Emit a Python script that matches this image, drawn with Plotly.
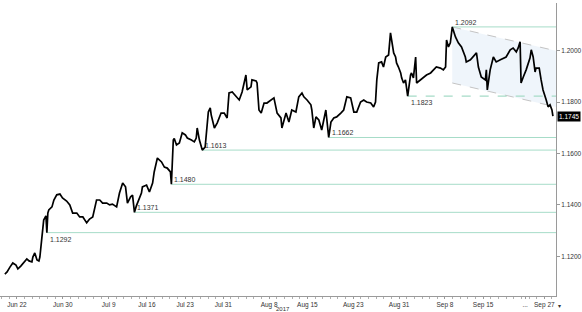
import plotly.graph_objects as go

# ---------------- data ----------------
TIMES = [
    "2017-06-20 10:00", "2017-06-20 17:00", "2017-06-21 02:00", "2017-06-21 11:00", "2017-06-21 21:00",
    "2017-06-22 03:00", "2017-06-22 12:00", "2017-06-22 19:00", "2017-06-23 07:00", "2017-06-23 14:00",
    "2017-06-23 23:00", "2017-06-26 02:00", "2017-06-26 08:00", "2017-06-26 15:00", "2017-06-26 21:00",
    "2017-06-27 00:00", "2017-06-27 03:00", "2017-06-27 06:00", "2017-06-27 09:00", "2017-06-27 12:00",
    "2017-06-27 19:00", "2017-06-27 22:00", "2017-06-28 01:00", "2017-06-28 04:00", "2017-06-28 14:00",
    "2017-06-28 20:00", "2017-06-29 05:00", "2017-06-29 15:00", "2017-06-29 23:00", "2017-06-30 12:00",
    "2017-06-30 22:00", "2017-07-03 07:00", "2017-07-03 20:00", "2017-07-04 05:00", "2017-07-04 15:00",
    "2017-07-05 03:00", "2017-07-05 12:00", "2017-07-05 22:00", "2017-07-06 10:00", "2017-07-06 20:00",
    "2017-07-07 05:00", "2017-07-07 18:00", "2017-07-10 03:00", "2017-07-10 12:00", "2017-07-11 01:00",
    "2017-07-11 10:00", "2017-07-11 20:00", "2017-07-12 05:00", "2017-07-12 11:00", "2017-07-12 21:00",
    "2017-07-13 03:00", "2017-07-13 06:00", "2017-07-13 09:00", "2017-07-13 15:00", "2017-07-13 22:00",
    "2017-07-14 07:00", "2017-07-14 10:00", "2017-07-14 23:00", "2017-07-17 08:00", "2017-07-17 18:00",
    "2017-07-17 23:00", "2017-07-18 09:00", "2017-07-18 22:00", "2017-07-19 07:00", "2017-07-19 16:00",
    "2017-07-20 02:00", "2017-07-20 05:00", "2017-07-20 11:00", "2017-07-20 14:00", "2017-07-20 21:00",
    "2017-07-21 06:00", "2017-07-21 15:00", "2017-07-24 01:00", "2017-07-24 07:00", "2017-07-24 20:00",
    "2017-07-25 05:00", "2017-07-25 11:00", "2017-07-25 14:00", "2017-07-25 21:00", "2017-07-26 06:00",
    "2017-07-26 15:00", "2017-07-27 01:00", "2017-07-27 07:00", "2017-07-27 10:00", "2017-07-27 20:00",
    "2017-07-28 05:00", "2017-07-28 17:00", "2017-07-31 03:00", "2017-07-31 12:00", "2017-07-31 18:00",
    "2017-08-01 04:00", "2017-08-01 16:00", "2017-08-02 02:00", "2017-08-02 11:00", "2017-08-02 23:00",
    "2017-08-03 03:00", "2017-08-03 15:00", "2017-08-03 18:00", "2017-08-04 07:00", "2017-08-04 10:00",
    "2017-08-04 16:00", "2017-08-04 23:00", "2017-08-07 08:00", "2017-08-07 17:00", "2017-08-08 06:00",
    "2017-08-08 15:00", "2017-08-09 01:00", "2017-08-09 13:00", "2017-08-09 16:00", "2017-08-10 05:00",
    "2017-08-10 14:00", "2017-08-10 23:00", "2017-08-11 12:00", "2017-08-11 21:00", "2017-08-14 07:00",
    "2017-08-14 13:00", "2017-08-14 23:00", "2017-08-15 11:00", "2017-08-15 14:00", "2017-08-15 20:00",
    "2017-08-16 03:00", "2017-08-16 12:00", "2017-08-16 21:00", "2017-08-17 10:00", "2017-08-17 19:00",
    "2017-08-18 02:00", "2017-08-18 11:00", "2017-08-18 20:00", "2017-08-21 09:00", "2017-08-21 18:00",
    "2017-08-22 04:00", "2017-08-22 16:00", "2017-08-23 02:00", "2017-08-23 11:00", "2017-08-23 23:00",
    "2017-08-24 09:00", "2017-08-24 18:00", "2017-08-25 07:00", "2017-08-25 16:00", "2017-08-25 22:00",
    "2017-08-28 02:00", "2017-08-28 08:00", "2017-08-28 17:00", "2017-08-28 23:00", "2017-08-29 06:00",
    "2017-08-29 15:00", "2017-08-29 21:00", "2017-08-30 01:00", "2017-08-30 07:00", "2017-08-30 13:00",
    "2017-08-30 16:00", "2017-08-30 22:00", "2017-08-31 05:00", "2017-08-31 08:00", "2017-08-31 14:00",
    "2017-08-31 20:00", "2017-09-01 03:00", "2017-09-01 12:00", "2017-09-01 15:00", "2017-09-01 21:00",
    "2017-09-04 04:00", "2017-09-04 07:00", "2017-09-04 19:00", "2017-09-05 05:00", "2017-09-05 14:00",
    "2017-09-06 03:00", "2017-09-06 12:00", "2017-09-06 21:00", "2017-09-07 10:00", "2017-09-07 19:00",
    "2017-09-08 02:00", "2017-09-08 05:00", "2017-09-08 11:00", "2017-09-08 17:00", "2017-09-08 23:00",
    "2017-09-11 09:00", "2017-09-11 18:00", "2017-09-12 04:00", "2017-09-12 16:00", "2017-09-12 19:00",
    "2017-09-13 08:00", "2017-09-13 17:00", "2017-09-14 03:00", "2017-09-14 09:00", "2017-09-14 18:00",
    "2017-09-15 07:00", "2017-09-15 10:00", "2017-09-15 13:00", "2017-09-15 22:00", "2017-09-18 08:00",
    "2017-09-18 17:00", "2017-09-19 06:00", "2017-09-19 15:00", "2017-09-20 00:00", "2017-09-20 13:00",
    "2017-09-20 22:00", "2017-09-21 08:00", "2017-09-21 14:00", "2017-09-21 20:00", "2017-09-21 23:00",
    "2017-09-22 06:00", "2017-09-22 15:00", "2017-09-25 03:00", "2017-09-25 07:00", "2017-09-25 13:00",
    "2017-09-25 19:00", "2017-09-25 22:00", "2017-09-26 08:00", "2017-09-26 14:00", "2017-09-26 20:00",
    "2017-09-27 06:00", "2017-09-27 12:00", "2017-09-27 18:00", "2017-09-28 00:00", "2017-09-28 03:00",
]
PRICES = [
    1.1131, 1.1139, 1.1158, 1.1174, 1.1166,
    1.1151, 1.1162, 1.1174, 1.1190, 1.1182,
    1.1178, 1.1197, 1.1213, 1.1186, 1.1182,
    1.1197, 1.1236, 1.1275, 1.1310, 1.1341,
    1.1357, 1.1292, 1.1368, 1.1380, 1.1392,
    1.1419, 1.1439, 1.1442, 1.1427, 1.1415,
    1.1400, 1.1368, 1.1368, 1.1353, 1.1353,
    1.1330, 1.1345, 1.1353, 1.1419, 1.1419,
    1.1407, 1.1407, 1.1400, 1.1403, 1.1392,
    1.1446, 1.1485, 1.1470, 1.1407, 1.1431,
    1.1438, 1.1396, 1.1371, 1.1396, 1.1419,
    1.1446, 1.1470, 1.1477, 1.1450, 1.1485,
    1.1528, 1.1582, 1.1567, 1.1547, 1.1543,
    1.1528, 1.1480, 1.1652, 1.1658, 1.1633,
    1.1641, 1.1680, 1.1672, 1.1660, 1.1652,
    1.1645, 1.1660, 1.1699, 1.1652, 1.1613,
    1.1625, 1.1761, 1.1777, 1.1750, 1.1699,
    1.1719, 1.1757, 1.1757, 1.1738, 1.1835,
    1.1839, 1.1820, 1.1808, 1.1839, 1.1905,
    1.1847, 1.1859, 1.1886, 1.1882, 1.1874,
    1.1769, 1.1757, 1.1796, 1.1796, 1.1808,
    1.1816, 1.1757, 1.1738, 1.1699, 1.1757,
    1.1722, 1.1769, 1.1761, 1.1820, 1.1835,
    1.1820, 1.1808, 1.1789, 1.1769, 1.1699,
    1.1742, 1.1730, 1.1691, 1.1769, 1.1662,
    1.1722, 1.1738, 1.1742, 1.1757, 1.1769,
    1.1820, 1.1816, 1.1761, 1.1761, 1.1800,
    1.1808, 1.1800, 1.1796, 1.1781, 1.1800,
    1.1886, 1.1952, 1.1956, 1.1936, 1.1975,
    1.1983, 1.2069, 1.2041, 1.1991, 1.1975,
    1.1952, 1.1936, 1.1913, 1.1894, 1.1874,
    1.1886, 1.1823, 1.1905, 1.1913, 1.1894,
    1.1975, 1.1874, 1.1886, 1.1897, 1.1905,
    1.1913, 1.1925, 1.1936, 1.1932, 1.1925,
    1.1936, 1.2041, 1.2014, 1.2030, 1.2092,
    1.2053, 1.2030, 1.2014, 1.1975, 1.1956,
    1.1964, 1.1975, 1.1991, 1.1936, 1.1897,
    1.1886, 1.1925, 1.1847, 1.1925, 1.1975,
    1.1956, 1.1964, 1.1971, 1.1975, 1.2003,
    1.2010, 1.1995, 1.2010, 1.2034, 1.1874,
    1.1897, 1.1925, 1.1971, 1.2003, 1.1975,
    1.1917, 1.1932, 1.1932, 1.1886, 1.1847,
    1.1808, 1.1781, 1.1789, 1.1769, 1.1745,
]

LEVEL_VALUES = [1.1292, 1.1371, 1.1480, 1.1613, 1.1662, 1.1823, 1.2092]
LEVEL_STARTS = ["2017-06-27 22:00", "2017-07-13 09:00", "2017-07-20 05:00", "2017-07-26 06:00",
                "2017-08-17 19:00", "2017-09-01 03:00", "2017-09-08 23:00"]

CHANNEL_X = ["2017-09-08 23:00", "2017-09-28 12:43"]
CHANNEL_UPPER = [1.2092, 1.1999]
CHANNEL_LOWER = [1.1874, 1.1781]

X_TICK_DATES = ["2017-06-22", "2017-06-30", "2017-07-10", "2017-07-17", "2017-07-24", "2017-07-31",
                "2017-08-08", "2017-08-15", "2017-08-23", "2017-08-31", "2017-09-08", "2017-09-15",
                "2017-09-22 12:00", "2017-09-27"]
X_TICK_LABELS = ["Jun 22", "Jun 30", "Jul 9", "Jul 16", "Jul 23", "Jul 31", "Aug 8", "Aug 15",
                 "Aug 23", "Aug 31", "Sep 8", "Sep 15", "...", "Sep 27"]
Y_TICKS = [1.12, 1.14, 1.16, 1.18, 1.20]
LAST_PRICE = 1.1745
YEAR_LABEL = "2017"
YEAR_LABEL_AT = "2017-08-09 19:00"

# ---------------- layout / style ----------------
X_RANGE = ["2017-06-19 18:49", "2017-09-28 12:43"]
Y_RANGE = [1.10456, 1.2185]
FONT = "Liberation Sans"
TXT = "#333333"
AXIS = "#9a9a9a"
LEVEL_COLOR = "#a6dcc8"
LABEL_BELOW = {1.1292, 1.1823}
DASHED_LEVEL = {1.1823}

fig = go.Figure()

# channel fill
fig.add_trace(go.Scatter(
    x=CHANNEL_X + CHANNEL_X[::-1], y=CHANNEL_UPPER + CHANNEL_LOWER[::-1],
    fill="toself", fillcolor="rgba(226,236,247,0.55)", mode="lines",
    line=dict(width=0), hoverinfo="skip"))
for ys in (CHANNEL_UPPER, CHANNEL_LOWER):
    fig.add_trace(go.Scatter(x=CHANNEL_X, y=ys, mode="lines",
                             line=dict(color="#c4c4c4", width=1, dash="dash"), hoverinfo="skip"))

# horizontal levels
for v, s in zip(LEVEL_VALUES, LEVEL_STARTS):
    fig.add_trace(go.Scatter(
        x=[s, X_RANGE[1]], y=[v, v], mode="lines", hoverinfo="skip",
        line=dict(color=LEVEL_COLOR, width=1.4 if v in DASHED_LEVEL else 1,
                  dash="dash" if v in DASHED_LEVEL else "solid")))
    below = v in LABEL_BELOW
    fig.add_annotation(x=s, y=v, text=f"{v:.4f}", showarrow=False,
                       xanchor="left", yanchor="top" if below else "bottom",
                       xshift=1, yshift=-1,
                       font=dict(family=FONT, size=7, color=TXT))

# price
fig.add_trace(go.Scatter(x=TIMES, y=PRICES, mode="lines",
                         line=dict(color="black", width=1.7), hoverinfo="skip"))

# last price tag
fig.add_annotation(xref="paper", x=1, y=LAST_PRICE, text=f"{LAST_PRICE:.4f}", showarrow=False,
                   xanchor="left", yanchor="middle", xshift=1, bgcolor="black", borderpad=1,
                   font=dict(family=FONT, size=6.5, color="white"))
# year label
fig.add_annotation(x=YEAR_LABEL_AT, yref="paper", y=0, text=YEAR_LABEL, showarrow=False,
                   xanchor="center", yanchor="top", yshift=-8,
                   font=dict(family=FONT, size=6, color=TXT))
fig.add_annotation(xref="paper", x=1, yref="paper", y=0, text="▾", showarrow=False,
                   xanchor="left", yanchor="top", xshift=0, yshift=-5,
                   font=dict(family=FONT, size=6, color=TXT))

fig.update_layout(
    width=582, height=312, autosize=False,
    margin=dict(l=0, r=24, t=3, b=16),
    plot_bgcolor="white", paper_bgcolor="white", showlegend=False,
    xaxis=dict(type="date", range=X_RANGE, rangebreaks=[dict(bounds=["sat", "mon"])],
               tickmode="array", tickvals=X_TICK_DATES, ticktext=X_TICK_LABELS,
               ticks="outside", ticklen=2, tickcolor=AXIS, showline=True, linecolor=AXIS,
               linewidth=1, showgrid=False, zeroline=False,
               tickfont=dict(family=FONT, size=6.5, color=TXT),
               minor=dict(ticks="outside", ticklen=2, tickcolor="#b0b0b0",
                          dtick=86400000, showgrid=False)),
    yaxis=dict(side="right", range=Y_RANGE, tickmode="array", tickvals=Y_TICKS,
               tickformat=".4f", ticks="outside", ticklen=3, tickcolor=AXIS,
               showline=True, linecolor=AXIS, linewidth=1, showgrid=False, zeroline=False,
               tickfont=dict(family=FONT, size=6.5, color=TXT)),
)

fig.write_html("out.html", config={"displayModeBar": False})
